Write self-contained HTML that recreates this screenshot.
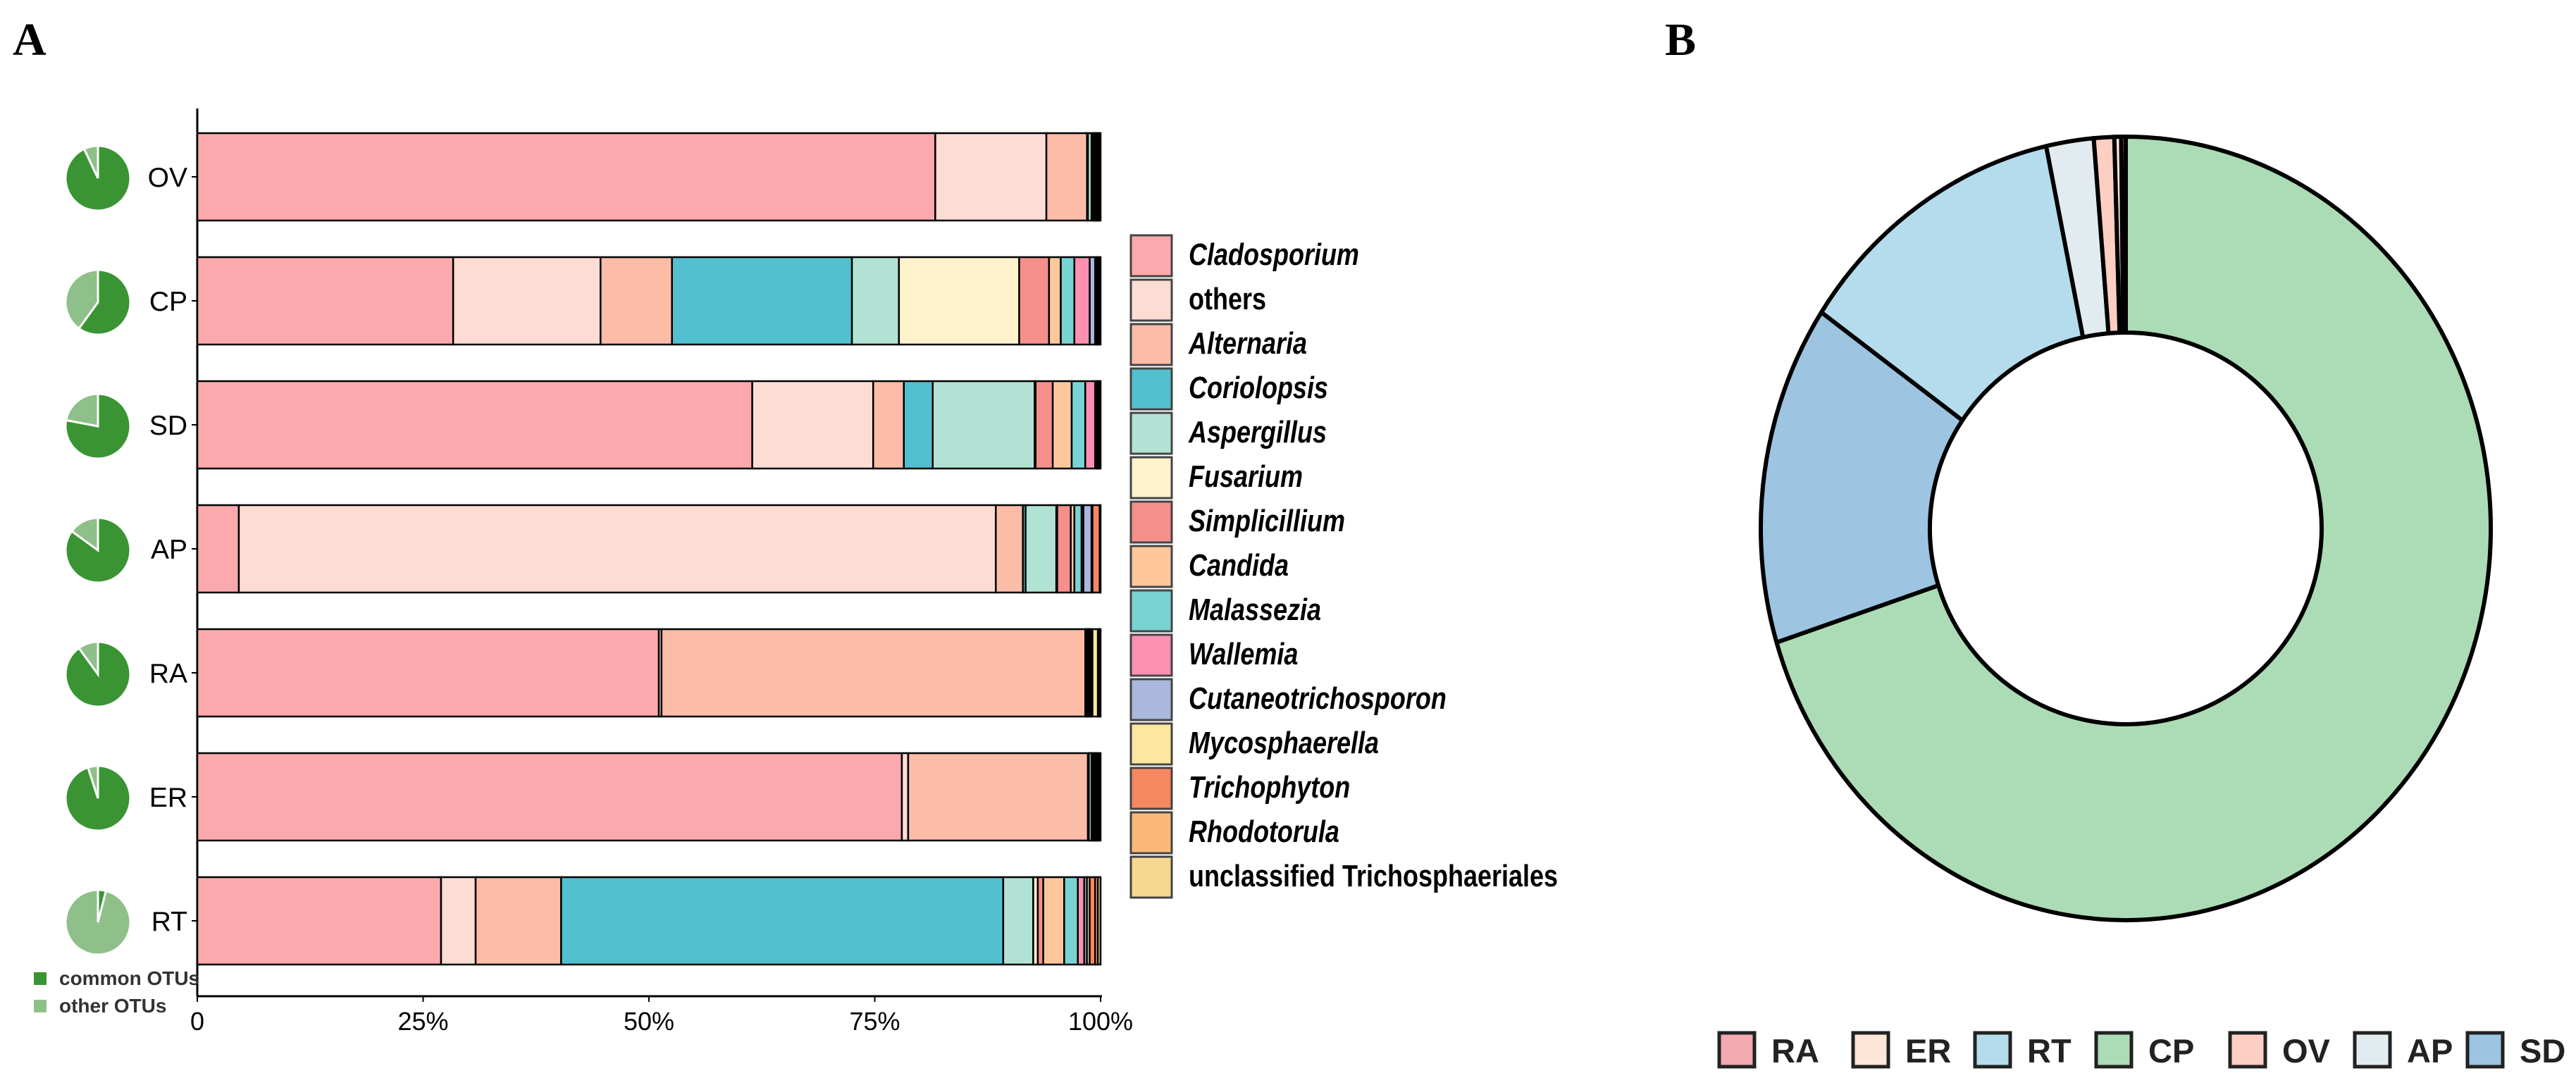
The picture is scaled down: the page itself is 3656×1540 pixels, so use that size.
<!DOCTYPE html>
<html><head><meta charset="utf-8"><style>
html,body{margin:0;padding:0;background:#fff;}
svg{display:block;font-family:"Liberation Sans",Arial,sans-serif;}
</style></head>
<body>
<svg id="fig" width="3656" height="1540" viewBox="0 0 3656 1540">
<text x="18" y="78" font-family="Liberation Serif" font-weight="bold" font-size="66">A</text>
<text x="2363" y="78" font-family="Liberation Serif" font-weight="bold" font-size="66">B</text>
<g id="bars"></g>
<g id="pies"></g>
<g id="legend"></g>
<g id="donut"></g>
<g id="dlegend"></g>
</svg>
<script>
const samples = ["OV","CP","SD","AP","RA","ER","RT"];
const genera = ["Cladosporium","others","Alternaria","Coriolopsis","Aspergillus","Fusarium","Simplicillium","Candida","Malassezia","Wallemia","Cutaneotrichosporon","Mycosphaerella","Trichophyton","Rhodotorula","unclassified Trichosphaeriales"];
const genusColors = ["#fba9ad","#fddcd4","#fbbca8","#52c0cf","#b2e2d3","#fef3cc","#f58f8c","#fec89c","#79d3d2","#fb90b1","#a9b8dc","#fbe79d","#f7875f","#fcb879","#f6d98e"];
const abundOV = [81.7,12.3,4.5,0.1,0.4,0.1,0.1,0.1,0.1,0.1,0.1,0.1,0.1,0.1,0.1];
const abundCP = [28.3,16.3,7.9,19.9,5.2,13.3,3.3,1.3,1.5,1.7,0.6,0.15,0.15,0.15,0.15];
const abundSD = [61.5,13.4,3.4,3.2,11.3,0.1,1.9,2.1,1.5,1.1,0.2,0.1,0.1,0.1,0.1];
const abundAP = [4.6,83.8,3.0,0.3,3.4,0.1,1.5,0.4,0.8,0.2,0.9,0.1,0.8,0.05,0.05];
const abundRA = [51.3,0.3,47.1,0.1,0.1,0.1,0.1,0.1,0.1,0.1,0.1,0.6,0.1,0.1,0.1];
const abundER = [78.0,0.7,19.9,0.1,0.3,0.1,0.1,0.1,0.1,0.1,0.1,0.1,0.1,0.1,0.1];
const abundRT = [26.8,3.8,9.4,48.6,3.3,0.5,0.6,2.3,1.5,0.7,0.3,0.3,0.6,0.3,0.3];
const rows = [abundOV,abundCP,abundSD,abundAP,abundRA,abundER,abundRT];
const otherOTUs = [7,40,22,15,10,5,96];
const xTicks = [0,25,50,75,100];
const xTickLabels = ["0","25%","50%","75%","100%"];
const donutCats = ["CP","SD","RT","AP","OV","ER","RA"];
const donutVals = [70.3,14.0,12.2,2.1,0.9,0.3,0.2];
const donutLegend = ["RA","ER","RT","CP","OV","AP","SD"];
const donutColors = {RA:"#f2a9b0",ER:"#fde5d8",RT:"#b5dcec",CP:"#acdcb5",OV:"#fdcfc3",AP:"#e2ecf0",SD:"#9dc4e1"};

const NS="http://www.w3.org/2000/svg";
function mk(tag,attrs,parent){const e=document.createElementNS(NS,tag);for(const k in attrs)e.setAttribute(k,attrs[k]);parent.appendChild(e);return e;}
const X0=280,X1=1562;
const xs=v=>X0+(X1-X0)*v/100;
const barTop=i=>189+176*i, BH=124;

const bars=document.getElementById('bars');
let ax=mk('line',{x1:X0,y1:154,x2:X0,y2:1414,stroke:'#000','stroke-width':3},bars);


let axx=mk('line',{x1:X0,y1:1414,x2:X1+2,y2:1414,stroke:'#000','stroke-width':3},bars);


xTicks.forEach((t,i)=>{
  const tx=mk('text',{x:xs(t),y:1462,'text-anchor':'middle','font-size':36},bars);
  tx.textContent=xTickLabels[i];
  
  
  mk('line',{x1:xs(t),y1:1414,x2:xs(t),y2:1422,stroke:'#000','stroke-width':2},bars);
});
rows.forEach((row,i)=>{
  const tot=row.reduce((a,b)=>a+b,0);
  let acc=0;
  const g=mk('g',{},bars);
  
  
  row.forEach((v,j)=>{
    const p0=acc/tot*100; acc+=v; const p1=acc/tot*100;
    const r=mk('rect',{x:xs(p0),y:barTop(i),width:Math.max(0,xs(p1)-xs(p0)),height:BH,fill:genusColors[j],stroke:'#000','stroke-width':2.5},g);
    
    
  });
  const lb=mk('text',{x:266,y:barTop(i)+BH/2+14,'text-anchor':'end','font-size':39},bars);
  lb.textContent=samples[i];
  
  
  mk('line',{x1:X0-8,y1:barTop(i)+BH/2,x2:X0,y2:barTop(i)+BH/2,stroke:'#000','stroke-width':2},bars);
});

const pies=document.getElementById('pies');
function arc(cx,cy,r,a0,a1){const rad=a=>(a-90)*Math.PI/180;
  const x0=cx+r*Math.cos(rad(a0)),y0=cy+r*Math.sin(rad(a0)),x1=cx+r*Math.cos(rad(a1)),y1=cy+r*Math.sin(rad(a1));
  return `M${cx},${cy} L${x0},${y0} A${r},${r} 0 ${a1-a0>180?1:0} 1 ${x1},${y1} Z`;}
otherOTUs.forEach((o,i)=>{
  const cx=139, cy=barTop(i)+BH/2+2, r=46;
  const g=mk('g',{},pies);
  
  
  const oa=o/100*360;
  const c=mk('path',{d:arc(cx,cy,r,0,360-oa-0.001),fill:'#3a9434',stroke:'#fff','stroke-width':3},g);
  
  
  const s=mk('path',{d:arc(cx,cy,r,360-oa,360),fill:'#8fc08a',stroke:'#fff','stroke-width':3},g);
  
  
});
[["common OTUs","#3a9434",1389],["other OTUs","#8fc08a",1428]].forEach(([t,c,y])=>{
  const r=mk('rect',{x:48,y:y-9,width:18,height:18,fill:c},pies);
  
  
  const tx=mk('text',{x:84,y:y+9,'font-size':28,'font-weight':'bold',fill:'#333'},pies);
  tx.textContent=t;
  
  
});

const leg=document.getElementById('legend');
genera.forEach((gname,j)=>{
  const y=334+63*j;
  const r=mk('rect',{x:1605,y:y,width:58,height:58,fill:genusColors[j],stroke:'#444','stroke-width':3},leg);
  
  
  const t=mk('text',{transform:`translate(1687,${y+42}) scale(1,1.2)`,'font-size':36,'font-weight':'bold','font-style':j===1||j===14?'normal':'italic'},leg);
  t.textContent=gname;
  
  
});

const dn=document.getElementById('donut');
const CX=3017,CY=750,ROX=518,ROY=556,RI=278;
const tot=donutVals.reduce((a,b)=>a+b,0);
let acc=0;
function ring(a0,a1){const rad=a=>(a-90)*Math.PI/180;
  const po=a=>[CX+ROX*Math.cos(rad(a)),CY+ROY*Math.sin(rad(a))];
  const pi=a=>[CX+RI*Math.cos(rad(a)),CY+RI*Math.sin(rad(a))];
  const L=a1-a0>180?1:0;const [x0,y0]=po(a0),[x1,y1]=po(a1),[x2,y2]=pi(a1),[x3,y3]=pi(a0);
  return `M${x0},${y0} A${ROX},${ROY} 0 ${L} 1 ${x1},${y1} L${x2},${y2} A${RI},${RI} 0 ${L} 0 ${x3},${y3} Z`;}
donutCats.forEach((c,i)=>{
  const a0=acc/tot*360; acc+=donutVals[i]; const a1=acc/tot*360;
  const p=mk('path',{d:ring(a0,a1),fill:donutColors[c],stroke:'#000','stroke-width':6,'stroke-linejoin':'round'},dn);
  
  
});
const dlg=document.getElementById('dlegend');
const boxX=[2440,2630,2803,2975,3165,3342,3502];
donutLegend.forEach((c,i)=>{
  const r=mk('rect',{x:boxX[i],y:1466,width:50,height:48,fill:donutColors[c],stroke:'#222','stroke-width':5},dlg);
  
  
  const t=mk('text',{x:boxX[i]+74,y:1508,'font-size':47,'font-weight':'bold',fill:'#222'},dlg);
  t.textContent=c;
  
  
});
</script>
</body></html>
